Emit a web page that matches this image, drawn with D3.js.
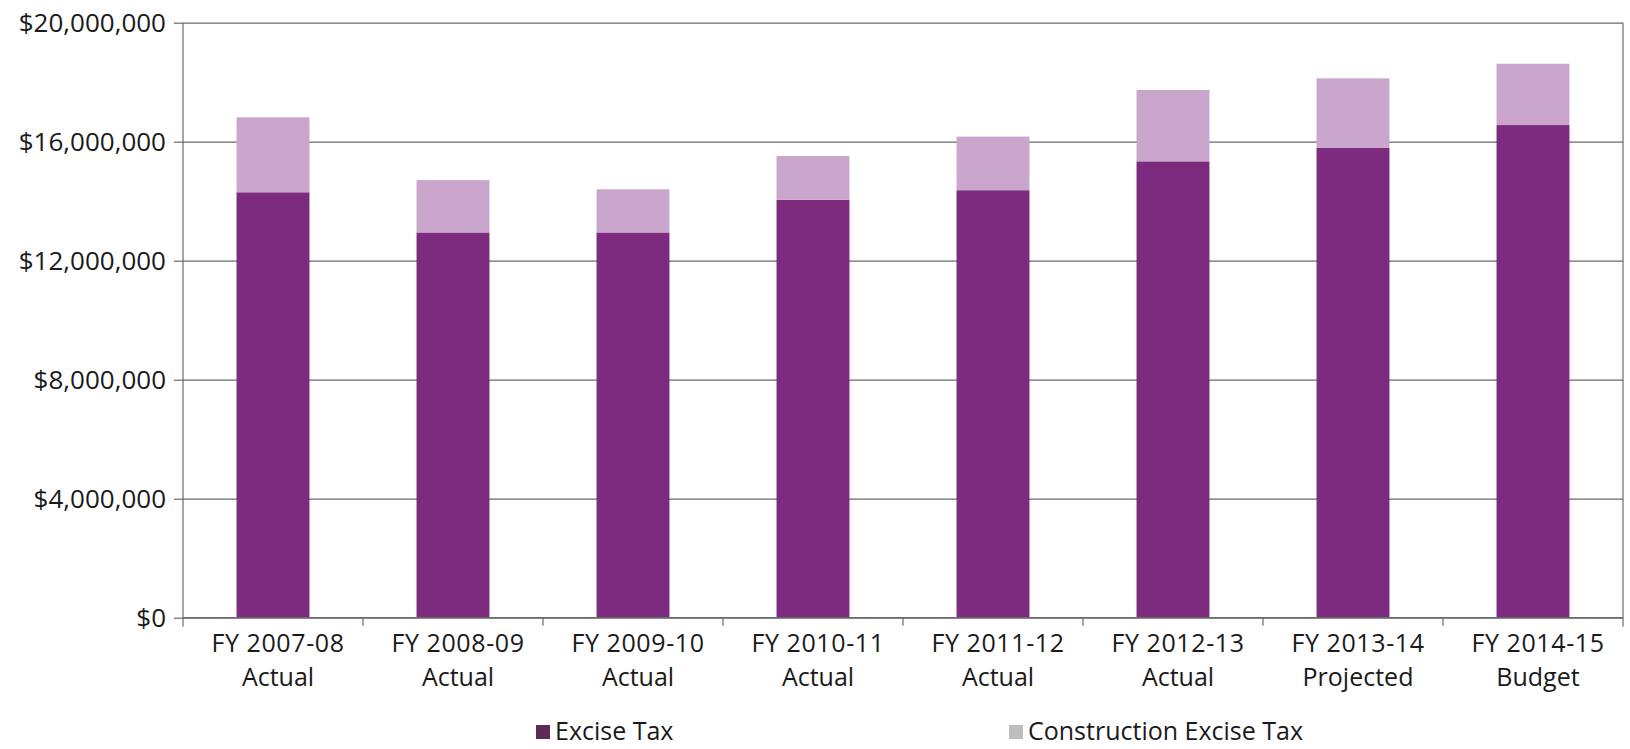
<!DOCTYPE html>
<html>
<head>
<meta charset="utf-8">
<script src="https://cdn.jsdelivr.net/npm/d3@7"></script>
<style>
  html, body { margin: 0; padding: 0; background: #ffffff; }
  svg { display: block; font-family: "Open Sans", "Noto Sans", sans-serif; }
</style>
</head>
<body>
<svg id="chart" width="1630" height="749"></svg>
<script>
// Fiscal years shown on the x axis (two lines each)
const yearLabels = ["FY 2007-08", "FY 2008-09", "FY 2009-10", "FY 2010-11",
                    "FY 2011-12", "FY 2012-13", "FY 2013-14", "FY 2014-15"];
const statusLabels = ["Actual", "Actual", "Actual", "Actual",
                      "Actual", "Actual", "Projected", "Budget"];

// Revenue by source, in dollars
const exciseTax = [14300000, 12950000, 12950000, 14050000,
                   14370000, 15340000, 15790000, 16560000];
const constructionExciseTax = [2520000, 1760000, 1450000, 1470000,
                               1800000, 2400000, 2340000, 2060000];

// Y axis ticks
const yTicks = [0, 4000000, 8000000, 12000000, 16000000, 20000000];

const seriesNames = ["Excise Tax", "Construction Excise Tax"];
const barColors = ["#7d2b7f", "#caa6cc"];
const legendColors = ["#5e2a57", "#bdbdbd"];

const svg = d3.select("#chart");
const margin = { top: 22.7, right: 7, bottom: 131.3, left: 183 };
const width = 1630 - margin.left - margin.right;
const height = 749 - margin.top - margin.bottom;
const axisColor = "#6a6a6a";
const textColor = "#1a1a1a";
const fontFamily = '"Open Sans", "Noto Sans", sans-serif';

const g = svg.append("g").attr("transform", `translate(${margin.left},${margin.top})`);

const keys = yearLabels.map((d, i) => d + "|" + statusLabels[i]);

// Category slots (for boundary ticks) and bars inside them
const xSlot = d3.scaleBand().domain(keys).range([0, width]).padding(0);
const xBar = d3.scaleBand().domain(keys).range([0, width])
  .paddingInner(0.595).paddingOuter(0.2975);
const y = d3.scaleLinear().domain([0, 20000000]).range([height, 0]);

// Horizontal gridlines
const grid = g.append("g")
  .call(d3.axisLeft(y).tickValues(yTicks).tickSize(-width).tickFormat(""));
grid.select(".domain").remove();
grid.selectAll(".tick line").attr("stroke", axisColor).attr("stroke-width", 1.2);

// Stacked bars
const rows = keys.map((k, i) => ({ key: k, excise: exciseTax[i], construction: constructionExciseTax[i] }));
const stack = d3.stack().keys(["excise", "construction"])(rows);

g.append("g").selectAll("g")
  .data(stack)
  .join("g")
  .attr("fill", (d, i) => barColors[i])
  .selectAll("rect")
  .data(d => d)
  .join("rect")
  .attr("x", d => xBar(d.data.key))
  .attr("width", xBar.bandwidth())
  .attr("y", d => y(d[1]))
  .attr("height", d => y(d[0]) - y(d[1]));

// Y axis with dollar labels
const yAxis = g.append("g")
  .call(d3.axisLeft(y).tickValues(yTicks).tickSize(9).tickPadding(8)
    .tickFormat(d3.format("$,")))
  .attr("font-family", fontFamily)
  .attr("font-size", null);
yAxis.select(".domain").remove();
yAxis.selectAll(".tick line").attr("stroke", axisColor).attr("stroke-width", 1.2);
yAxis.selectAll(".tick text")
  .attr("fill", textColor)
  .style("font-size", "26px");

// Left axis line and right border, both running a little past the baseline
[0, width].forEach(xPos => {
  g.append("line")
    .attr("x1", xPos).attr("x2", xPos)
    .attr("y1", 0).attr("y2", height + 9)
    .attr("stroke", axisColor).attr("stroke-width", 1.2);
});

// X axis: baseline and category boundary ticks
g.append("line")
  .attr("x1", 0).attr("x2", width)
  .attr("y1", height).attr("y2", height)
  .attr("stroke", axisColor).attr("stroke-width", 1.2);

g.append("g").selectAll("line")
  .data(keys.slice(1))
  .join("line")
  .attr("x1", d => xSlot(d)).attr("x2", d => xSlot(d))
  .attr("y1", height).attr("y2", height + 8)
  .attr("stroke", axisColor).attr("stroke-width", 1.2);

// Two-line category labels, one text per line
const labelLines = [0, 1];
const xLabelGroups = g.append("g").selectAll("g")
  .data(keys)
  .join("g")
  .attr("transform", d => `translate(${xSlot(d) + xSlot.bandwidth() / 2 + 5},${height})`);
xLabelGroups.selectAll("text")
  .data(d => labelLines.map(j => d.split("|")[j]))
  .join("text")
  .attr("y", (d, j) => 34 + j * 34.2)
  .attr("text-anchor", "middle")
  .attr("fill", textColor)
  .style("font-size", "25px")
  .style("letter-spacing", (d, j) => j === 0 ? "0.6px" : null)
  .text(d => d);

// Legend
const legendX = [536, 1009];
const legend = svg.append("g").selectAll("g")
  .data(seriesNames)
  .join("g")
  .attr("transform", (d, i) => `translate(${legendX[i]},732)`);
legend.append("rect")
  .attr("x", 0).attr("y", -7)
  .attr("width", 14).attr("height", 14)
  .attr("fill", (d, i) => legendColors[i]);
legend.append("text")
  .attr("x", 19).attr("y", 8)
  .attr("fill", textColor)
  .style("font-size", "25px")
  .text(d => d);
</script>
</body>
</html>
